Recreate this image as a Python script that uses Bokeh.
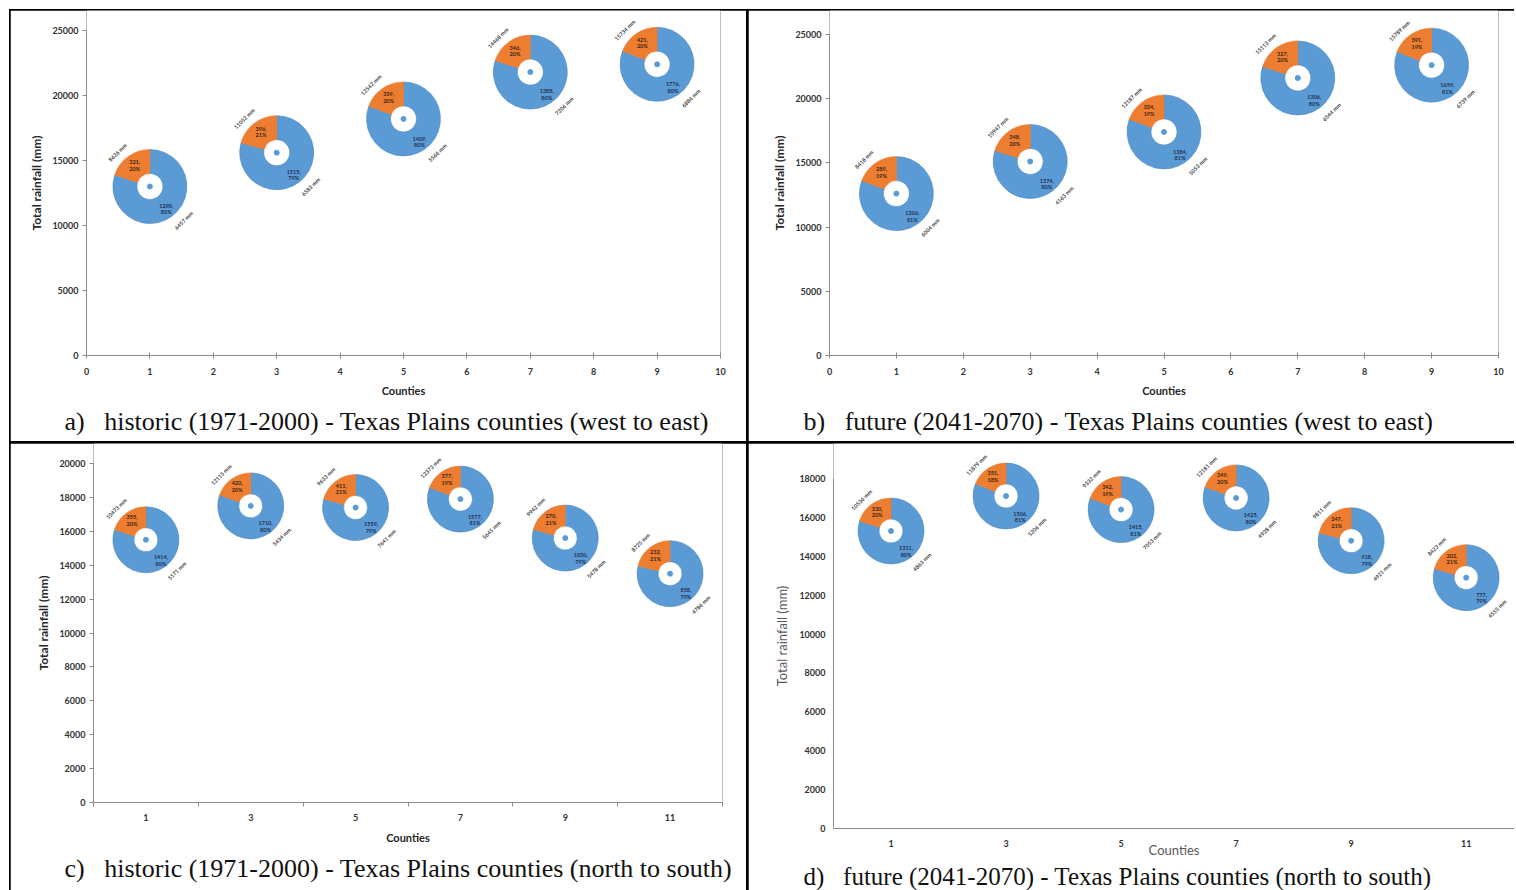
import numpy as np
from bokeh.plotting import figure
from bokeh.layouts import row, column
from bokeh.models import ColumnDataSource, FixedTicker, Title
from bokeh.embed import file_html
from bokeh.resources import INLINE
from bokeh.core.properties import value

# ---------------- data ----------------
# a) historic (1971-2000) - west to east
a_county = [1, 3, 5, 7, 9]
a_total = [13000, 15600, 18200, 21800, 22400]
a_orange = [321, 396, 339, 346, 421]
a_blue = [1290, 1515, 1409, 1388, 1776]
a_pct_o = ["20%", "21%", "20%", "20%", "20%"]
a_pct_b = ["80%", "79%", "80%", "80%", "80%"]
a_top = ["8626 mm", "11052 mm", "12542 mm", "14468 mm", "15734 mm"]
a_bot = ["6457 mm", "6583 mm", "5566 mm", "7206 mm", "6884 mm"]

# b) future (2041-2070) - west to east
b_county = [1, 3, 5, 7, 9]
b_total = [12600, 15100, 17400, 21600, 22600]
b_orange = [289, 348, 334, 327, 391]
b_blue = [1206, 1374, 1384, 1306, 1659]
b_pct_o = ["19%", "20%", "19%", "20%", "19%"]
b_pct_b = ["81%", "80%", "81%", "80%", "81%"]
b_top = ["8418 mm", "10947 mm", "12187 mm", "15113 mm", "15789 mm"]
b_bot = ["6004 mm", "4163 mm", "5053 mm", "6544 mm", "6739 mm"]

# c) historic (1971-2000) - north to south
c_county = [1, 3, 5, 7, 9, 11]
c_total = [15500, 17500, 17400, 17900, 15600, 13500]
c_orange = [355, 420, 411, 377, 270, 232]
c_blue = [1414, 1710, 1559, 1577, 1030, 858]
c_pct_o = ["20%", "20%", "21%", "19%", "21%", "21%"]
c_pct_b = ["80%", "80%", "79%", "81%", "79%", "79%"]
c_top = ["10473 mm", "12115 mm", "9633 mm", "12373 mm", "9942 mm", "8725 mm"]
c_bot = ["5171 mm", "5434 mm", "7641 mm", "5645 mm", "5478 mm", "4786 mm"]

# d) future (2041-2070) - north to south
d_county = [1, 3, 5, 7, 9, 11]
d_total = [15300, 17100, 16400, 17000, 14800, 12900]
d_orange = [330, 351, 342, 349, 247, 202]
d_blue = [1311, 1506, 1415, 1425, 918, 777]
d_pct_o = ["20%", "18%", "19%", "20%", "21%", "21%"]
d_pct_b = ["80%", "81%", "81%", "80%", "79%", "79%"]
d_top = ["10536 mm", "11879 mm", "9332 mm", "12181 mm", "9811 mm", "8423 mm"]
d_bot = ["4863 mm", "5206 mm", "7053 mm", "4928 mm", "4921 mm", "4555 mm"]

captions = [
    "a)\u00a0\u00a0 historic (1971-2000) - Texas Plains counties (west to east)",
    "b)\u00a0\u00a0 future (2041-2070) - Texas Plains counties (west to east)",
    "c)\u00a0\u00a0 historic (1971-2000) - Texas Plains counties (north to south)",
    "d)\u00a0\u00a0 future (2041-2070) - Texas Plains counties (north to south)",
]

ORANGE = "#ED7D31"
BLUE = "#5B9BD5"
AXIS = "#8A8A8A"
TICK_TXT = "#333333"


def make_panel(county, total, orange, blue, pct_o, pct_b, top, bot, caption,
               w, h, borders, xr, ymax, ytop_px, yticks, xmode, r_out, r_in,
               cap_offset, dstyle=False):
    left, right, bottom = borders
    frame_h = h - bottom
    # axis max sits ytop_px below the canvas top; frame extends to canvas top
    y_end = ymax * frame_h / (frame_h - ytop_px)
    p = figure(width=w, height=h, x_range=xr, y_range=(0, y_end), title=None,
               output_backend="svg", toolbar_location=None,
               min_border_left=left, min_border_right=right,
               min_border_top=0, min_border_bottom=bottom)
    p.outline_line_color = None
    p.grid.visible = False
    p.background_fill_color = "white"
    p.border_fill_color = "white"

    cx = np.array(county, dtype=float)
    cy = np.array(total, dtype=float)
    o = np.array(orange, dtype=float)
    b = np.array(blue, dtype=float)
    frac = o / (o + b)
    start_o = np.full(len(cx), np.pi / 2)
    end_o = np.pi / 2 + 2 * np.pi * frac
    mid_o = np.pi / 2 + np.pi * frac
    mid_b = np.pi / 2 + 2 * np.pi * frac + np.pi * (1 - frac)
    r_lab = (r_out + r_in) / 2 + 1

    src = ColumnDataSource(dict(
        x=cx, y=cy, so=start_o, eo=end_o,
        lo=[f"{int(v)},\n{pc}" for v, pc in zip(orange, pct_o)],
        lb=[f"{int(v)},\n{pc}" for v, pc in zip(blue, pct_b)],
        xo_o=r_lab * np.cos(mid_o), yo_o=-r_lab * np.sin(mid_o),
        xo_b=(r_lab + 2) * np.cos(mid_b), yo_b=-(r_lab + 2) * np.sin(mid_b),
        top=top, bot=bot,
    ))

    p.annular_wedge(x="x", y="y", inner_radius=r_in, outer_radius=r_out,
                    inner_radius_units="screen", outer_radius_units="screen",
                    start_angle="eo", end_angle="so", direction="anticlock",
                    fill_color=BLUE, line_color="#4A86C0", line_width=0.6,
                    source=src)
    p.annular_wedge(x="x", y="y", inner_radius=r_in, outer_radius=r_out,
                    inner_radius_units="screen", outer_radius_units="screen",
                    start_angle="so", end_angle="eo", direction="anticlock",
                    fill_color=ORANGE, line_color=ORANGE, line_width=0.6,
                    source=src)
    p.scatter(x="x", y="y", size=5, color=BLUE, source=src)

    fs = "5.5px"
    p.text(x="x", y="y", text="lo", x_offset="xo_o", y_offset="yo_o",
           text_font=value("Lato"), text_font_style="bold", text_font_size=fs,
           text_color="#3A2614", text_align="center", text_baseline="middle",
           text_line_height=1.1, source=src)
    p.text(x="x", y="y", text="lb", x_offset="xo_b", y_offset="yo_b",
           text_font=value("Lato"), text_font_style="bold", text_font_size=fs,
           text_color="#1E3050", text_align="center", text_baseline="middle",
           text_line_height=1.1, source=src)
    ro = r_out + 9
    p.text(x="x", y="y", text="top", x_offset=-ro * 0.70, y_offset=-ro * 0.74,
           angle=np.pi / 4, text_font=value("Lato"), text_font_style="bold",
           text_font_size=fs, text_color="#404040", text_align="center",
           text_baseline="middle", source=src)
    p.text(x="x", y="y", text="bot", x_offset=ro * 0.74, y_offset=ro * 0.74,
           angle=np.pi / 4, text_font=value("Lato"), text_font_style="bold",
           text_font_size=fs, text_color="#404040", text_align="center",
           text_baseline="middle", source=src)

    # axes
    xa = p.xaxis[0]
    ya = p.yaxis[0]
    for ax in (xa, ya):
        ax.axis_line_color = AXIS
        ax.major_tick_line_color = AXIS
        ax.minor_tick_line_color = AXIS
        ax.major_label_text_font = "Lato"
        ax.major_label_text_font_style = "bold"
        ax.major_label_text_font_size = "9px"
        ax.major_label_text_color = TICK_TXT
        ax.axis_label_text_font = "Lato"

    ya.bounds = (0, ymax)
    ya.ticker = FixedTicker(ticks=yticks, minor_ticks=[])
    ya.major_tick_out = 4
    ya.major_tick_in = 0
    ya.major_label_standoff = 4
    ya.axis_label = "Total rainfall (mm)"
    xa.axis_label = "Counties"

    title_standoff = 11
    cap_size = "26px"
    if xmode == "linear":
        xa.ticker = FixedTicker(ticks=list(range(0, 11)), minor_ticks=[])
        xa.major_tick_in = 3
        xa.major_tick_out = 3
        xa.major_label_standoff = 9
        xa.axis_label_standoff = 6
    else:
        xa.ticker = FixedTicker(ticks=[1, 3, 5, 7, 9, 11],
                                minor_ticks=[0, 2, 4, 6, 8, 10, 12])
        xa.major_tick_line_color = None
        xa.major_tick_out = 0
        xa.major_tick_in = 0
        xa.minor_tick_in = 0
        xa.minor_tick_out = 0 if dstyle else 4
        if dstyle:
            xa.major_label_standoff = 11
            xa.axis_label_standoff = -8
            title_standoff = 0
            cap_size = "25px"
        else:
            xa.major_label_standoff = 7
            xa.axis_label_standoff = 7

    if dstyle:
        ya.major_tick_out = 0
        ya.major_label_standoff = 8
        ya.axis_label_text_font_style = "normal"
        ya.axis_label_text_font_size = "13px"
        ya.axis_label_text_color = "#595959"
        ya.axis_label_standoff = 6
        xa.axis_label_text_font_style = "normal"
        xa.axis_label_text_font_size = "13px"
        xa.axis_label_text_color = "#595959"
    else:
        ya.axis_label_text_font_style = "bold"
        ya.axis_label_text_font_size = "12px"
        ya.axis_label_text_color = "#262626"
        ya.axis_label_standoff = 5
        xa.axis_label_text_font_style = "bold"
        xa.axis_label_text_font_size = "11px"
        xa.axis_label_text_color = "#262626"

    cap = Title(text=caption, align="left", offset=cap_offset,
                text_font="Liberation Serif", text_font_style="normal",
                text_font_size=cap_size, text_color="#111111",
                standoff=title_standoff)
    p.add_layout(cap, "below")
    return p


pa = make_panel(a_county, a_total, a_orange, a_blue, a_pct_o, a_pct_b, a_top, a_bot,
                captions[0], 736, 431, (76, 26, 86), (0, 10), 25000, 20,
                list(range(0, 25001, 5000)), "linear", 37, 13, -22)
pb = make_panel(b_county, b_total, b_orange, b_blue, b_pct_o, b_pct_b, b_top, b_bot,
                captions[1], 766, 431, (81, 16, 83), (0, 10), 25000, 24,
                list(range(0, 25001, 5000)), "linear", 37, 13, -26)
pc = make_panel(c_county, c_total, c_orange, c_blue, c_pct_o, c_pct_b, c_top, c_bot,
                captions[2], 736, 447, (83, 24, 88), (0, 12), 20000, 20,
                list(range(0, 20001, 2000)), "cat", 33, 12, -29)
pd_ = make_panel(d_county, d_total, d_orange, d_blue, d_pct_o, d_pct_b, d_top, d_bot,
                 captions[3], 766, 447, (85, 0, 62), (0, 11.84), 18000, 35,
                 list(range(0, 18001, 2000)), "cat", 33, 12, -30, dstyle=True)

# wrap every figure on its own so that frames are not aligned across a row
r1 = row(column(pa), column(pb))
r1.spacing = 2
r2 = row(column(pc), column(pd_))
r2.spacing = 2
root = column(r1, r2)
root.spacing = 2
root.styles = {"background-color": "black", "padding": "1px 0px 0px 1px",
               "margin-left": "9px", "margin-top": "9px"}

open("out.html", "w").write(file_html(root, INLINE))
